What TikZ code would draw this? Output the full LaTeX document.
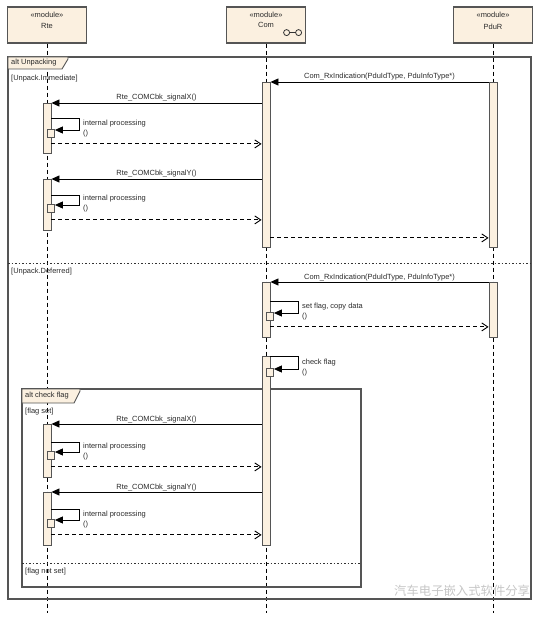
\documentclass[tikz,border=0pt]{standalone}
\usepackage{fontspec}
\setmainfont{Liberation Sans}
\newfontfamily\cjkfont{Noto Sans CJK SC}
\usetikzlibrary{arrows.meta}
\definecolor{umlbeige}{HTML}{FBF0E0}
\definecolor{umlgrey}{HTML}{555555}
\definecolor{umltext}{HTML}{2B2B2B}
\tikzset{
  module/.style={draw=umlgrey, fill=umlbeige, line width=1.2bp, minimum width=79bp, minimum height=36bp, inner sep=0pt},
  actbar/.style={draw=umlgrey, fill=umlbeige, line width=0.9bp, minimum width=8bp, inner sep=0pt, anchor=north},
  subact/.style={draw=umlgrey, fill=umlbeige, line width=0.9bp, minimum width=7bp, minimum height=8bp, inner sep=0pt, anchor=north west},
  lifeline/.style={black, line width=0.9bp, dash pattern=on 4bp off 3bp},
  call/.style={black, line width=0.9bp, -{Triangle[length=8bp, width=7bp]}},
  reply/.style={black, line width=0.9bp, dash pattern=on 4bp off 3bp, -{Straight Barb[length=6bp, width=8bp]}},
  fragframe/.style={draw=umlgrey, line width=1.4bp},
  fragtab/.style={draw=umlgrey, fill=umlbeige, line width=0.9bp},
  separator/.style={black!80, line width=0.9bp, dash pattern=on 1.5bp off 2bp},
  msg/.style={text=umltext, inner sep=1bp},
}
\begin{document}
\begin{tikzpicture}[x=1bp, y=-1bp, font=\fontsize{7.5}{10}\selectfont]
  \def\xR{47}\def\xC{266}\def\xP{493}
  \useasboundingbox (0,0) rectangle (554,619);
  % heads
  \node[module] (rte) at (\xR,25) {};
  \node[module] (com) at (\xC,25) {};
  \node[module] (pdur) at (\xP,25) {};
  \node[msg] (rteSt) at ([yshift=-8bp]rte.north) {«module»};
  \node[msg] (comSt) at ([yshift=-8bp]com.north) {«module»};
  \node[msg] (pdurSt) at ([yshift=-8bp]pdur.north) {«module»};
  \node[msg] (rteName) at ([yshift=-20bp]rte.north) {Rte};
  \node[msg] (comName) at ([yshift=-19bp]com.north) {Com};
  \node[msg] (pdurName) at ([yshift=-20bp]pdur.north) {PduR};
  \draw[black!80, line width=0.8bp] ([xshift=-19.5bp,yshift=11bp]com.south east) circle[radius=3bp]
    ([xshift=-7.5bp,yshift=11bp]com.south east) circle[radius=3bp]
    ([xshift=-16.5bp,yshift=11bp]com.south east) -- ([xshift=-10.5bp,yshift=11bp]com.south east);
  \draw[lifeline] (rte.south) -- ++(0,569);
  \draw[lifeline] (com.south) -- ++(0,569);
  \draw[lifeline] (pdur.south) -- ++(0,569);
  % alt Unpacking
  \draw[fragframe] (8,57) rectangle (531,599);
  \draw[fragtab] (8,57) -- (68,57) -- (68,59) -- (62,69) -- (8,69) -- cycle;
  \node[msg, anchor=west] (altU) at (10,63) {alt Unpacking};
  \node[msg, anchor=west] (gImm) at (10,79) {[Unpack.Immediate]};
  \draw[separator] (8,263) -- (531,263);
  \node[msg, anchor=west] (gDef) at (10,272) {[Unpack.Deferred]};
  % alt check flag
  \draw[fragframe] (22,389) rectangle (361,587);
  \draw[fragtab] (22,389) -- (80,389) -- (80,391) -- (74,403) -- (22,403) -- cycle;
  \node[msg, anchor=west] (altF) at (24,396) {alt check flag};
  \node[msg, anchor=west] (gSet) at (24,412) {[flag set]};
  \draw[separator] (22,563) -- (361,563);
  \node[msg, anchor=west] (gNot) at (24,572) {[flag not set]};
  % Unpack.Immediate
  \node[actbar, minimum height=165bp] (comA) at (\xC,82) {};
  \node[actbar, minimum height=165bp] (pdurA) at (\xP,82) {};
  \node[actbar, minimum height=50bp] (rteX) at (\xR,103) {};
  \node[subact] (rteXs) at (\xR,129) {};
  \node[actbar, minimum height=51bp] (rteY) at (\xR,179) {};
  \node[subact] (rteYs) at (\xR,204) {};
  \draw[call] (pdurA.north west) -- node[msg, above] (mRx1) {Com\_RxIndication(PduIdType, PduInfoType*)} (comA.north east);
  \draw[call] (comA.west |- rteX.north) -- node[msg, above] (mX1) {Rte\_COMCbk\_signalX()} (rteX.north east);
  \draw[call] ([yshift=-15bp]rteX.north east) -- ++(28,0) |- ([yshift=-1bp]rteXs.north east);
  \node[msg, anchor=west, align=left] (lX1) at (82,129) {internal processing\\()};
  \draw[reply] ([yshift=10bp]rteX.south east) -- ([yshift=10bp]rteX.south east -| comA.west);
  \draw[call] (comA.west |- rteY.north) -- node[msg, above] (mY1) {Rte\_COMCbk\_signalY()} (rteY.north east);
  \draw[call] ([yshift=-16bp]rteY.north east) -- ++(28,0) |- ([yshift=-1bp]rteYs.north east);
  \node[msg, anchor=west, align=left] (lY1) at (82,204) {internal processing\\()};
  \draw[reply] ([yshift=11bp]rteY.south east) -- ([yshift=11bp]rteY.south east -| comA.west);
  \draw[reply] ([yshift=10bp]comA.south east) -- ([yshift=10bp]comA.south east -| pdurA.west);
  % Unpack.Deferred
  \node[actbar, minimum height=55bp] (comB) at (\xC,282) {};
  \node[actbar, minimum height=55bp] (pdurB) at (\xP,282) {};
  \node[subact] (comBs) at (\xC,312) {};
  \draw[call] (pdurB.north west) -- node[msg, above] (mRx2) {Com\_RxIndication(PduIdType, PduInfoType*)} (comB.north east);
  \draw[call] ([yshift=-19bp]comB.north east) -- ++(28,0) |- ([yshift=-1bp]comBs.north east);
  \node[msg, anchor=west, align=left] (lB) at (301,312) {set flag, copy data\\()};
  \draw[reply] ([yshift=11bp]comB.south east) -- ([yshift=11bp]comB.south east -| pdurB.west);
  \node[actbar, minimum height=189bp] (comC) at (\xC,356) {};
  \node[subact] (comCs) at (\xC,368) {};
  \draw[call] (comC.north east) -- ++(28,0) |- ([yshift=-1bp]comCs.north east);
  \node[msg, anchor=west, align=left] (lC) at (301,368) {check flag\\()};
  % flag set
  \node[actbar, minimum height=53bp] (rteX2) at (\xR,424) {};
  \node[subact] (rteX2s) at (\xR,451) {};
  \node[actbar, minimum height=53bp] (rteY2) at (\xR,492) {};
  \node[subact] (rteY2s) at (\xR,519) {};
  \draw[call] (comC.west |- rteX2.north) -- node[msg, above] (mX2) {Rte\_COMCbk\_signalX()} (rteX2.north east);
  \draw[call] ([yshift=-18bp]rteX2.north east) -- ++(28,0) |- ([yshift=-1bp]rteX2s.north east);
  \node[msg, anchor=west, align=left] (lX2) at (82,452) {internal processing\\()};
  \draw[reply] ([yshift=11bp]rteX2.south east) -- ([yshift=11bp]rteX2.south east -| comC.west);
  \draw[call] (comC.west |- rteY2.north) -- node[msg, above] (mY2) {Rte\_COMCbk\_signalY()} (rteY2.north east);
  \draw[call] ([yshift=-17bp]rteY2.north east) -- ++(28,0) |- ([yshift=-1bp]rteY2s.north east);
  \node[msg, anchor=west, align=left] (lY2) at (82,520) {internal processing\\()};
  \draw[reply] ([yshift=11bp]rteY2.south east) -- ([yshift=11bp]rteY2.south east -| comC.west);
  \node[text=gray!45, font=\cjkfont\fontsize{12.4}{12.4}\selectfont, anchor=west, inner sep=0pt] (wm) at (394,591) {汽车电子嵌入式软件分享};
\end{tikzpicture}
\end{document}
